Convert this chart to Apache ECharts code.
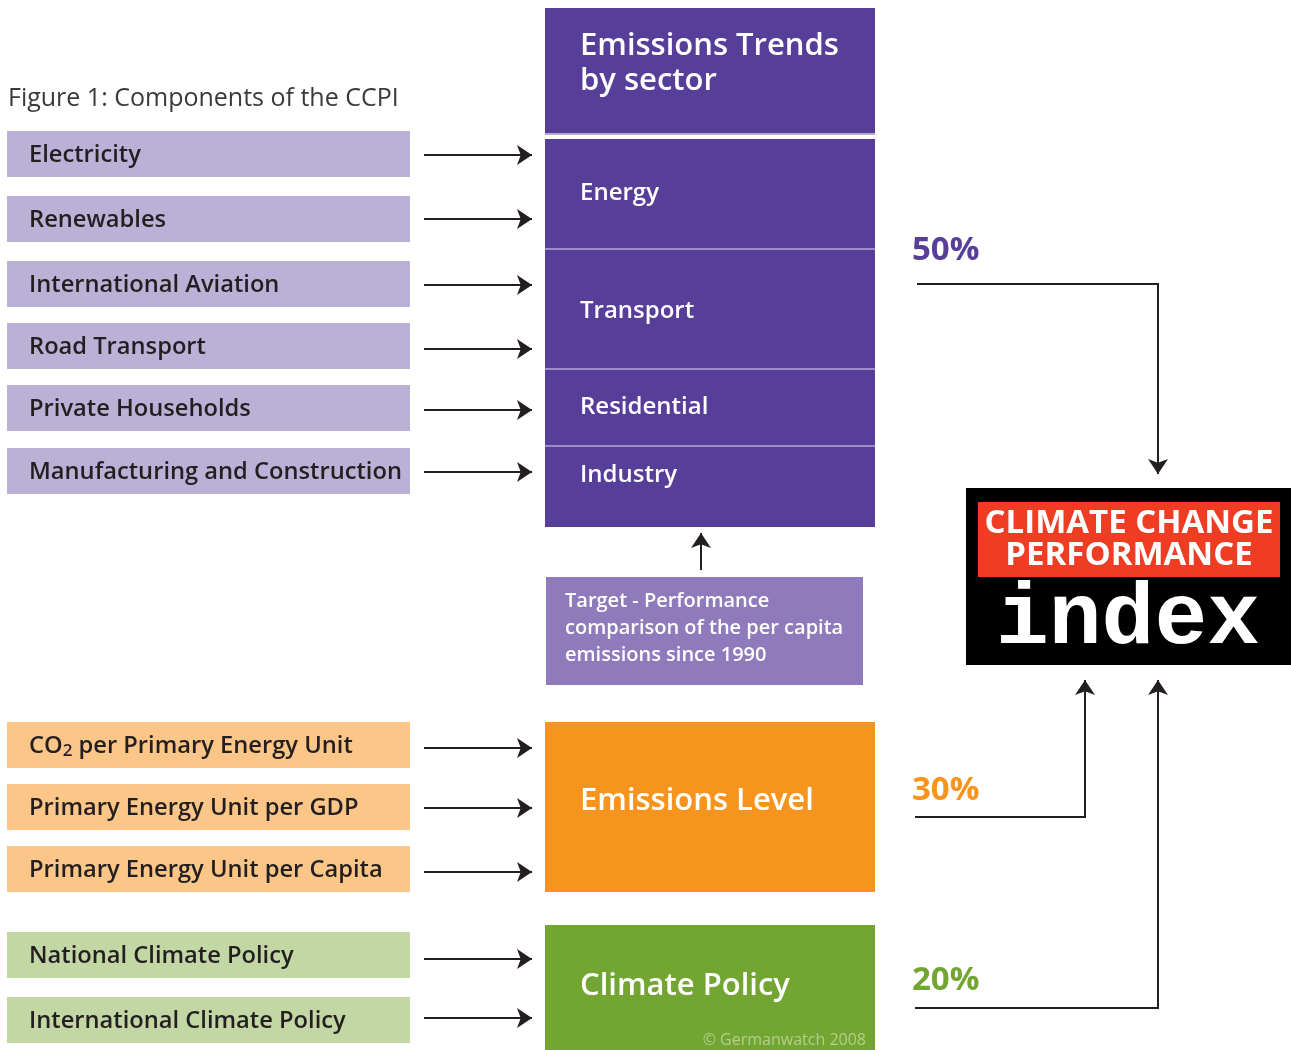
<!DOCTYPE html>
<html>
<head>
<meta charset="utf-8">
<script src="https://cdn.jsdelivr.net/npm/echarts@6/dist/echarts.min.js"></script>
<style>
  html, body { margin: 0; padding: 0; background: #fff; }
  #chart { width: 1291px; height: 1050px; }
</style>
</head>
<body>
<div id="chart"></div>
<script>
  // texts of the diagram
  const figureTitle = 'Figure 1: Components of the CCPI';
  const trendInputs = ['Electricity', 'Renewables', 'International Aviation', 'Road Transport', 'Private Households', 'Manufacturing and Construction'];
  const levelInputs = ['CO2 per Primary Energy Unit', 'Primary Energy Unit per GDP', 'Primary Energy Unit per Capita'];
  const policyInputs = ['National Climate Policy', 'International Climate Policy'];
  const sectors = ['Energy', 'Transport', 'Residential', 'Industry'];
  const components = ['Emissions Trends\nby sector', 'Emissions Level', 'Climate Policy'];
  const targetText = 'Target - Performance\ncomparison of the per capita\nemissions since 1990';
  const weights = [50, 30, 20];
  const logoLines = ['CLIMATE CHANGE', 'PERFORMANCE', 'index'];
  const credit = '© Germanwatch 2008';

  // layout (pixel grid of the hidden axes)
  const leftX = [7, 410];
  const arrowX = [424, 532];
  const trendRows = [131, 196, 261, 323, 385, 448];
  const levelRows = [722, 784, 846];
  const policyRows = [932, 997];
  const rowH = 46;
  const colX = [545, 875];
  const sectorTops = [139, 250, 370, 447];
  const sectorBottoms = [248, 368, 445, 527];
  const sectorTextY = [193, 311, 407, 475];

  const purple = '#573e98';
  const orange = '#f7941d';
  const green = '#73a532';
  const ink = '#231f20';
  const font = '"Open Sans", "Noto Sans", sans-serif';

  const boxes = [];
  function addBox(x0, y0, x1, y1, fill, text, opts) {
    boxes.push(Object.assign({ value: [x0, y0, x1, y1], fill: fill, text: text }, opts || {}));
  }

  trendInputs.forEach(function (t, i) {
    addBox(leftX[0], trendRows[i], leftX[1], trendRows[i] + rowH, '#bbb1d6', t, { tx: 29, size: 23.7, color: ink });
  });
  levelInputs.forEach(function (t, i) {
    addBox(leftX[0], levelRows[i], leftX[1], levelRows[i] + rowH, '#fdc689', t, { tx: 29, size: 23.7, color: ink });
  });
  policyInputs.forEach(function (t, i) {
    addBox(leftX[0], policyRows[i], leftX[1], policyRows[i] + rowH, '#c3d7a4', t, { tx: 29, size: 23.7, color: ink });
  });

  addBox(colX[0], 8, colX[1], 133, purple, components[0], { tx: 580, ty: 64, size: 31, color: '#fff', lh: 35 });
  addBox(colX[0], 133, colX[1], 135, '#b5aad6', '');
  addBox(colX[0], 139, colX[1], 527, '#9b8ec8', '');
  sectors.forEach(function (t, i) {
    addBox(colX[0], sectorTops[i], colX[1], sectorBottoms[i], purple, t, { tx: 580, ty: sectorTextY[i], size: 24, color: '#fff' });
  });
  addBox(546, 577, 863, 685, '#8f7bbb', targetText, { tx: 565, ty: 628, size: 20, color: '#fff', lh: 27 });
  addBox(colX[0], 722, colX[1], 892, orange, components[1], { tx: 580, ty: 801, size: 31, color: '#fff' });
  addBox(colX[0], 925, colX[1], 1050, green, components[2], { tx: 580, ty: 986, size: 31, color: '#fff' });

  function renderBox(params, api) {
    const b = boxes[params.dataIndex];
    const p0 = api.coord([api.value(0), api.value(1)]);
    const p1 = api.coord([api.value(2), api.value(3)]);
    const children = [{
      type: 'rect',
      shape: { x: p0[0], y: p0[1], width: p1[0] - p0[0], height: p1[1] - p0[1] },
      style: { fill: b.fill }
    }];
    if (b.text) {
      const tp = api.coord([b.tx, b.ty != null ? b.ty : (api.value(1) + api.value(3)) / 2 + 1]);
      const style = {
        text: b.text,
        fill: b.color,
        fontFamily: font,
        fontWeight: 600,
        fontSize: b.size,
        lineHeight: b.lh || b.size * 1.2,
        verticalAlign: 'middle',
        align: 'left'
      };
      if (b.text.indexOf('CO2') === 0) {
        style.text = '{a|CO}{s|2}{a|' + b.text.slice(3) + '}';
        style.rich = {
          a: { fontFamily: font, fontWeight: 600, fontSize: b.size, fill: b.color },
          s: { fontFamily: font, fontWeight: 600, fontSize: 17, fill: b.color, padding: [10, 0, 0, 0] }
        };
      }
      children.push({ type: 'text', x: tp[0], y: tp[1], style: style });
    }
    return { type: 'group', children: children };
  }

  // logo + free texts
  const logo = [966, 488, 1291, 665];
  const logoRed = [978, 502, 1280, 577];
  function renderLogo(params, api) {
    const a = api.coord([logo[0], logo[1]]);
    const b = api.coord([logo[2], logo[3]]);
    const r0 = api.coord([logoRed[0], logoRed[1]]);
    const r1 = api.coord([logoRed[2], logoRed[3]]);
    const cx = (r0[0] + r1[0]) / 2;
    return {
      type: 'group',
      children: [
        { type: 'rect', shape: { x: a[0], y: a[1], width: b[0] - a[0], height: b[1] - a[1] }, style: { fill: '#000' } },
        { type: 'rect', shape: { x: r0[0], y: r0[1], width: r1[0] - r0[0], height: r1[1] - r0[1] }, style: { fill: '#ee3d23' } },
        { type: 'text', x: cx, y: api.coord([0, 524])[1], style: { text: logoLines[0], fill: '#fff', fontFamily: font, fontWeight: 'bold', fontSize: 33, align: 'center', verticalAlign: 'middle' } },
        { type: 'text', x: cx, y: api.coord([0, 556])[1], style: { text: logoLines[1], fill: '#fff', fontFamily: font, fontWeight: 'bold', fontSize: 33, align: 'center', verticalAlign: 'middle' } },
        { type: 'text', x: cx - 1, y: api.coord([0, 621])[1], style: { text: logoLines[2], fill: '#fff', fontFamily: '"Liberation Mono", monospace', fontWeight: 'bold', fontSize: 88, align: 'center', verticalAlign: 'middle' } }
      ]
    };
  }

  const freeTexts = [
    { value: [8, 99], text: figureTitle, size: 25, color: '#3a3a3a', weight: 'normal', align: 'left' },
    { value: [912, 251], text: weights[0] + '%', size: 33, color: purple, weight: 'bold', align: 'left' },
    { value: [912, 791], text: weights[1] + '%', size: 33, color: orange, weight: 'bold', align: 'left' },
    { value: [912, 981], text: weights[2] + '%', size: 33, color: green, weight: 'bold', align: 'left' },
    { value: [866, 1040], text: credit, size: 16, color: '#b3cf8a', weight: 'normal', align: 'right' }
  ];
  function renderText(params, api) {
    const t = freeTexts[params.dataIndex];
    const p = api.coord([api.value(0), api.value(1)]);
    return {
      type: 'text', x: p[0], y: p[1],
      style: { text: t.text, fill: t.color, fontFamily: font, fontWeight: t.weight, fontSize: t.size, align: t.align, verticalAlign: 'middle' }
    };
  }

  // connectors
  const inputArrowY = [155, 219, 285, 349, 410, 472, 748, 808, 872, 959, 1018];
  const arrowLines = inputArrowY.map(function (y) {
    return { coords: [[arrowX[0], y], [arrowX[1], y]] };
  });
  arrowLines.push({ coords: [[701, 570], [701, 533]] });
  arrowLines.push({ coords: [[1158, 284], [1158, 474]] });
  arrowLines.push({ coords: [[1085, 817], [1085, 680]] });
  arrowLines.push({ coords: [[1158, 1008], [1158, 680]] });
  const plainLines = [
    { coords: [[917, 284], [1159, 284]] },
    { coords: [[915, 817], [1086, 817]] },
    { coords: [[915, 1008], [1159, 1008]] }
  ];

  const chart = echarts.init(document.getElementById('chart'));
  chart.setOption({
    animation: false,
    grid: { left: 0, right: 0, top: 0, bottom: 0 },
    xAxis: { type: 'value', min: 0, max: 1291, show: false },
    yAxis: { type: 'value', min: 0, max: 1050, inverse: true, show: false },
    series: [
      {
        type: 'custom',
        renderItem: renderBox,
        data: boxes.map(function (b) { return b.value; }),
        encode: { x: [0, 2], y: [1, 3] },
        clip: false,
        silent: true
      },
      {
        type: 'custom',
        renderItem: renderLogo,
        data: [logo],
        encode: { x: [0, 2], y: [1, 3] },
        clip: false,
        silent: true
      },
      {
        type: 'custom',
        renderItem: renderText,
        data: freeTexts.map(function (t) { return t.value; }),
        clip: false,
        silent: true
      },
      {
        type: 'lines',
        coordinateSystem: 'cartesian2d',
        data: plainLines,
        symbol: ['none', 'none'],
        lineStyle: { color: ink, width: 2, opacity: 1 },
        silent: true
      },
      {
        type: 'lines',
        coordinateSystem: 'cartesian2d',
        data: arrowLines,
        symbol: ['none', 'arrow'],
        symbolSize: [11, 15],
        lineStyle: { color: ink, width: 2, opacity: 1 },
        itemStyle: { color: ink },
        silent: true
      }
    ]
  });
</script>
</body>
</html>
